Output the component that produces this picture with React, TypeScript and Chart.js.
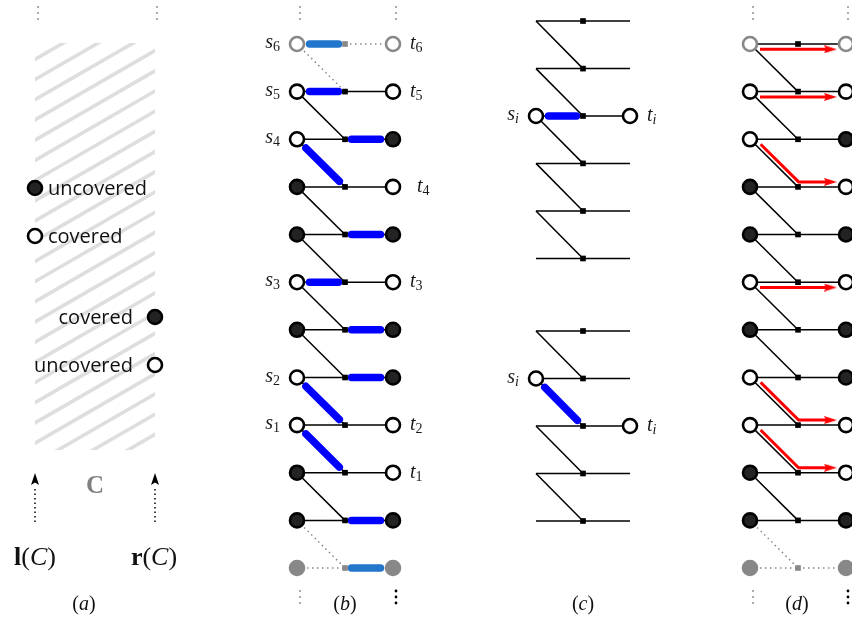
import React, { useEffect, useRef } from 'react';
import { Chart, registerables } from 'chart.js';
Chart.register(...registerables);

const W = 852;
const H = 618;

// ---- panel (b) / (d): rows of the zig-zag gadget ----
const ROWS = [44, 91.6, 139.3, 186.9, 234.5, 282.2, 329.8, 377.5, 425.1, 472.7, 520.4, 568];
const COLS_B = [297, 345, 393];
const COLS_D = [750, 798, 846];
const LEFT_STATE = ['go', 'o', 'o', 'f', 'f', 'o', 'f', 'o', 'o', 'f', 'f', 'gf'];
const RIGHT_STATE = ['go', 'o', 'f', 'o', 'f', 'o', 'f', 'f', 'o', 'o', 'f', 'gf'];
const B_BLUE_LEFT = [0, 1, 5];
const B_BLUE_RIGHT = [2, 4, 6, 7, 10, 11];
const B_BLUE_DIAG = [2, 7, 8];
const D_MATCH: [number, number][] = [[0, 0], [1, 1], [2, 3], [5, 5], [7, 8], [8, 9]];
const S_LABELS: [number, string][] = [[0, '6'], [1, '5'], [2, '4'], [5, '3'], [7, '2'], [8, '1']];
const T_LABELS: [number, string, number][] = [[0, '6', 0], [1, '5', 0], [3, '4', 7], [5, '3', 0], [8, '2', 0], [9, '1', 0]];

// ---- panel (c) ----
const COLS_C = [536, 583, 630];
const ROWS_C_TOP = [21, 68.6, 116, 163.4, 211, 258.5];
const ROWS_C_BOT = [331, 378.5, 426, 473.5, 521];
const C_TOP_ST = [2, 2];
const C_BOT_ST = [1, 2];

// ---- panel (a) ----
const A_COLS = [35, 155];
const A_RECT_Y = [43, 450];
const A_LEFT_NODES: [number, string, string][] = [[188, 'f', 'uncovered'], [236, 'o', 'covered']];
const A_RIGHT_NODES: [number, string, string][] = [[317, 'f', 'covered'], [365, 'o', 'uncovered']];
const A_ARROW_Y = [522, 486, 479];

// ---- ellipsis dots ----
const DOTS_TOP_X = [38, 157, 300, 396, 753, 848];
const DOTS_TOP_Y = [7, 13, 19];
const DOTS_BOT_GRAY_X = [300, 753];
const DOTS_BOT_BLACK_X = [396, 848];
const DOTS_BOT_Y = [591, 597, 603];

const PANEL_LABELS: [string, number][] = [['a', 84], ['b', 345], ['c', 583], ['d', 797]];

const BLUE = '#0000ff';
const LBLUE = '#2277cc';
const GRAY = '#888888';
const RED = '#ff0000';

type P = { x: number; y: number };
const pt = (x: number, y: number): P => ({ x, y });

function inset(a: P, b: P, s: number, e: number): P[] {
  const dx = b.x - a.x, dy = b.y - a.y, L = Math.hypot(dx, dy);
  const ux = dx / L, uy = dy / L;
  return [pt(a.x + ux * s, a.y + uy * s), pt(b.x - ux * e, b.y - uy * e)];
}

function line(data: P[], color: string, width: number, order: number, extra: any = {}) {
  return {
    data, showLine: true, borderColor: color, borderWidth: width, pointRadius: 0, pointHoverRadius: 0,
    order, clip: false, borderCapStyle: 'butt', borderJoinStyle: 'miter', ...extra,
  };
}
const dotted = (data: P[], color: string) => line(data, color, 1.5, 5, { borderDash: [1.5, 3.5] });
const thin = (data: P[]) => line(data, '#000', 1.5, 5);
const thick = (data: P[], color: string) => line(data, color, 7.5, 3, { borderCapStyle: 'round' });

const fillOf = (s: string) => (s === 'f' ? '#232323' : s === 'gf' ? GRAY : '#ffffff');
const strokeOf = (s: string) => (s === 'go' || s === 'gf' ? GRAY : '#000000');

function nodes(data: P[], states: string[]) {
  return {
    data, showLine: false, pointStyle: 'circle', pointRadius: 7, pointHoverRadius: 7,
    pointBorderWidth: 2.6, pointHoverBorderWidth: 2.6,
    pointBackgroundColor: states.map(fillOf), pointBorderColor: states.map(strokeOf),
    order: 0, clip: false,
  };
}
function squares(data: P[], colors: string[]) {
  return {
    data, showLine: false, pointStyle: 'rect', pointRadius: 4, pointHoverRadius: 4,
    pointBorderWidth: 0, pointBackgroundColor: colors, pointBorderColor: colors, order: 1, clip: false,
  };
}
function dots(data: P[], color: string, r: number) {
  return {
    data, showLine: false, pointStyle: 'circle', pointRadius: r, pointHoverRadius: r,
    pointBorderWidth: 0, pointBackgroundColor: color, pointBorderColor: color, order: 0, clip: false,
  };
}

function makeHead(w: number, h: number, color: string, dir: 'up' | 'right') {
  const c = document.createElement('canvas');
  c.width = w; c.height = h;
  const g = c.getContext('2d')!;
  g.fillStyle = color;
  g.beginPath();
  if (dir === 'up') {
    g.moveTo(w / 2, 0); g.lineTo(w, h); g.lineTo(w / 2, h - 2.5); g.lineTo(0, h);
  } else {
    g.moveTo(w, h / 2); g.lineTo(0, 0); g.lineTo(2, h / 2); g.lineTo(0, h);
  }
  g.closePath(); g.fill();
  return c;
}

function buildDatasets() {
  const ds: any[] = [];
  const upHead = makeHead(8, 12, '#000', 'up');
  const redHead = makeHead(13, 8, RED, 'right');

  // ----- panel (b) -----
  {
    const [L, M, R] = COLS_B;
    const n = ROWS.length;
    ROWS.forEach((y, i) => {
      const last = i === n - 1;
      if (i === 0) {
        ds.push(dotted([pt(M, y), pt(R, y)], GRAY));
      } else if (last) {
        ds.push(dotted([pt(L, y), pt(M, y)], GRAY));
      } else {
        ds.push(thin([pt(L, y), pt(M, y)]));
        ds.push(thin([pt(M, y), pt(R, y)]));
      }
      if (!last) {
        const a = pt(L, y), b = pt(M, ROWS[i + 1]);
        if (i === 0 || i === n - 2) ds.push(dotted([a, b], GRAY));
        else ds.push(thin([a, b]));
      }
    });
    B_BLUE_LEFT.forEach((i) => {
      const c = i === 0 || i === n - 1 ? LBLUE : BLUE;
      ds.push(thick(inset(pt(L, ROWS[i]), pt(M, ROWS[i]), 12.5, 6.5), c));
    });
    B_BLUE_RIGHT.forEach((i) => {
      const c = i === 0 || i === n - 1 ? LBLUE : BLUE;
      ds.push(thick(inset(pt(M, ROWS[i]), pt(R, ROWS[i]), 6.5, 12.5), c));
    });
    B_BLUE_DIAG.forEach((i) => {
      ds.push(thick(inset(pt(L, ROWS[i]), pt(M, ROWS[i + 1]), 12.5, 8), BLUE));
    });
    ds.push(squares(ROWS.map((y) => pt(M, y)), ROWS.map((_, i) => (i === 0 || i === n - 1 ? GRAY : '#000'))));
    ds.push(nodes(ROWS.map((y) => pt(L, y)), LEFT_STATE));
    ds.push(nodes(ROWS.map((y) => pt(R, y)), RIGHT_STATE));
  }

  // ----- panel (d) -----
  {
    const [L, M, R] = COLS_D;
    const n = ROWS.length;
    ROWS.forEach((y, i) => {
      const last = i === n - 1;
      if (last) {
        ds.push(dotted([pt(L, y), pt(M, y)], GRAY));
        ds.push(dotted([pt(M, y), pt(R, y)], GRAY));
      } else {
        ds.push(thin([pt(L, y), pt(M, y)]));
        ds.push(thin([pt(M, y), pt(R, y)]));
      }
      if (!last) {
        const a = pt(L, y), b = pt(M, ROWS[i + 1]);
        if (i === n - 2) ds.push(dotted([a, b], GRAY));
        else ds.push(thin([a, b]));
      }
    });
    const heads: P[] = [];
    D_MATCH.forEach(([i, j]) => {
      const y1 = ROWS[i], y2 = ROWS[j];
      if (i === j) {
        ds.push(line([pt(L + 10, y1 + 5.3), pt(R - 20, y1 + 5.3)], RED, 3, 2));
        heads.push(pt(R - 15.5, y1 + 5.3));
      } else {
        const [s] = inset(pt(L, y1), pt(M, y2), 11, 0);
        const dx = M - L, dy = y2 - y1, len = Math.hypot(dx, dy);
        const nx = dy / len, ny = -dx / len;
        const start = pt(s.x + nx * 4, s.y + ny * 4);
        const cy = y2 - 5;
        const cx = start.x + ((cy - start.y) * dx) / dy;
        ds.push(line([start, pt(cx, cy), pt(R - 20, cy)], RED, 3, 2));
        heads.push(pt(R - 15.5, cy));
      }
    });
    ds.push({
      data: heads, showLine: false, pointStyle: redHead, pointRadius: 6, pointHoverRadius: 6, order: 1, clip: false,
    });
    ds.push(squares(ROWS.map((y) => pt(M, y)), ROWS.map((_, i) => (i === n - 1 ? GRAY : '#000'))));
    ds.push(nodes(ROWS.map((y) => pt(L, y)), LEFT_STATE));
    ds.push(nodes(ROWS.map((y) => pt(R, y)), RIGHT_STATE));
  }

  // ----- panel (c) -----
  {
    const [L, M, R] = COLS_C;
    const group = (rows: number[], st: number[], diagBlue: boolean) => {
      rows.forEach((y, i) => {
        ds.push(thin([pt(L, y), pt(R, y)]));
        if (i < rows.length - 1) ds.push(thin([pt(L, y), pt(M, rows[i + 1])]));
      });
      const [si, ti] = st;
      if (diagBlue) ds.push(thick(inset(pt(L, rows[si]), pt(M, rows[si + 1]), 12.5, 8), BLUE));
      else ds.push(thick(inset(pt(L, rows[si]), pt(M, rows[si]), 12.5, 6.5), BLUE));
      ds.push(squares(rows.map((y) => pt(M, y)), rows.map(() => '#000')));
      ds.push(nodes([pt(L, rows[si]), pt(R, rows[ti])], ['o', 'o']));
    };
    group(ROWS_C_TOP, C_TOP_ST, false);
    group(ROWS_C_BOT, C_BOT_ST, true);
  }

  // ----- panel (a) -----
  {
    const [xl, xr] = A_COLS;
    ds.push(nodes(A_LEFT_NODES.map(([y]) => pt(xl, y)), A_LEFT_NODES.map(([, s]) => s)));
    ds.push(nodes(A_RIGHT_NODES.map(([y]) => pt(xr, y)), A_RIGHT_NODES.map(([, s]) => s)));
    A_COLS.forEach((x) => {
      ds.push(line([pt(x, A_ARROW_Y[0]), pt(x, A_ARROW_Y[1])], '#000', 1.5, 5, { borderDash: [1.5, 3] }));
    });
    ds.push({
      data: A_COLS.map((x) => pt(x, A_ARROW_Y[2])), showLine: false, pointStyle: upHead,
      pointRadius: 6, pointHoverRadius: 6, order: 1, clip: false,
    });
  }

  // ----- ellipsis dots -----
  const top: P[] = [];
  DOTS_TOP_X.forEach((x) => DOTS_TOP_Y.forEach((y) => top.push(pt(x, y))));
  ds.push(dots(top, '#999', 1.1));
  const bg: P[] = [];
  DOTS_BOT_GRAY_X.forEach((x) => DOTS_BOT_Y.forEach((y) => bg.push(pt(x, y))));
  ds.push(dots(bg, '#999', 1.1));
  const bb: P[] = [];
  DOTS_BOT_BLACK_X.forEach((x) => DOTS_BOT_Y.forEach((y) => bb.push(pt(x, y))));
  ds.push(dots(bb, '#000', 1.4));

  return ds;
}

const SERIF = '"Liberation Serif", "DejaVu Serif", serif';
const SANS = '"Open Sans", "Noto Sans", sans-serif';

function drawRuns(ctx: CanvasRenderingContext2D, x: number, y: number, runs: [string, string, number?][], align: 'left' | 'center' | 'right') {
  let total = 0;
  const widths = runs.map(([t, f]) => { ctx.font = f; const w = ctx.measureText(t).width; total += w; return w; });
  let cx = align === 'left' ? x : align === 'right' ? x - total : x - total / 2;
  runs.forEach(([t, f, dy], k) => {
    ctx.font = f;
    ctx.fillText(t, cx, y + (dy || 0));
    cx += widths[k];
  });
}

const hatchPlugin = {
  id: 'hatch',
  beforeDatasetsDraw(chart: any) {
    const { ctx, scales } = chart;
    const X0 = scales.x.getPixelForValue(A_COLS[0]);
    const X1 = scales.x.getPixelForValue(A_COLS[1]);
    const Y0 = scales.y.getPixelForValue(A_RECT_Y[0]);
    const Y1 = scales.y.getPixelForValue(A_RECT_Y[1]);
    ctx.save();
    ctx.beginPath();
    ctx.rect(X0, Y0, X1 - X0, Y1 - Y0);
    ctx.clip();
    ctx.strokeStyle = '#dedede';
    ctx.lineWidth = 3.6;
    const slope = Math.tan(Math.PI / 6);
    ctx.beginPath();
    for (let yy = Y0 + 16.3 - 20.2 * 2; yy < Y1 + 90; yy += 20.2) {
      ctx.moveTo(X0 - 5, yy + slope * 5);
      ctx.lineTo(X1 + 5, yy - slope * (X1 - X0 + 5));
    }
    ctx.stroke();
    ctx.restore();
  },
};

const textPlugin = {
  id: 'texts',
  afterDatasetsDraw(chart: any) {
    const { ctx, scales } = chart;
    const X = (v: number) => scales.x.getPixelForValue(v);
    const Y = (v: number) => scales.y.getPixelForValue(v);
    ctx.save();
    ctx.textBaseline = 'alphabetic';
    ctx.fillStyle = '#1a1a1a';
    const it = `italic 20px ${SERIF}`;
    const sub = `14px ${SERIF}`;
    const subIt = `italic 14px ${SERIF}`;
    S_LABELS.forEach(([i, k]) => drawRuns(ctx, X(COLS_B[0] - 17), Y(ROWS[i]) + 4, [['s', it], [k, sub, 3]], 'right'));
    T_LABELS.forEach(([i, k, off]) => drawRuns(ctx, X(COLS_B[2] + 17 + off), Y(ROWS[i]) + 5, [['t', it], [k, sub, 3]], 'left'));
    [[ROWS_C_TOP, C_TOP_ST], [ROWS_C_BOT, C_BOT_ST]].forEach(([rows, st]: any) => {
      drawRuns(ctx, X(COLS_C[0] - 17), Y(rows[st[0]]) + 4, [['s', it], ['i', subIt, 3]], 'right');
      drawRuns(ctx, X(COLS_C[2] + 17), Y(rows[st[1]]) + 5, [['t', it], ['i', subIt, 3]], 'left');
    });
    ctx.fillStyle = '#111';
    const sans = `20px ${SANS}`;
    A_LEFT_NODES.forEach(([y, , t]) => drawRuns(ctx, X(A_COLS[0] + 13), Y(y) + 7, [[t, sans]], 'left'));
    A_RIGHT_NODES.forEach(([y, , t]) => drawRuns(ctx, X(A_COLS[1] - 22), Y(y) + 7, [[t, sans]], 'right'));
    ctx.fillStyle = '#808080';
    drawRuns(ctx, X((A_COLS[0] + A_COLS[1]) / 2), Y(493), [['C', `bold 25px ${SERIF}`]], 'center');
    ctx.fillStyle = '#111';
    const big = `26px ${SERIF}`;
    drawRuns(ctx, X(A_COLS[0]), Y(565), [['l', `bold 26px ${SERIF}`], ['(', big], ['C', `italic 26px ${SERIF}`], [')', big]], 'center');
    drawRuns(ctx, X(A_COLS[1] - 1), Y(565), [['r', `bold 26px ${SERIF}`], ['(', big], ['C', `italic 26px ${SERIF}`], [')', big]], 'center');
    PANEL_LABELS.forEach(([k, x]) => drawRuns(ctx, X(x), Y(610), [['(', `20px ${SERIF}`], [k, `italic 20px ${SERIF}`], [')', `20px ${SERIF}`]], 'center'));
    ctx.restore();
  },
};

export default function App() {
  const ref = useRef<HTMLCanvasElement | null>(null);
  useEffect(() => {
    if (!ref.current) return;
    const chart = new Chart(ref.current, {
      type: 'scatter',
      data: { datasets: buildDatasets() },
      options: {
        animation: false,
        responsive: false,
        maintainAspectRatio: false,
        devicePixelRatio: 1,
        events: [],
        layout: { padding: 0, autoPadding: false },
        plugins: { legend: { display: false }, tooltip: { enabled: false } },
        scales: {
          x: { type: 'linear', min: 0, max: W, display: false },
          y: { type: 'linear', min: 0, max: H, reverse: true, display: false },
        },
      } as any,
      plugins: [hatchPlugin, textPlugin],
    });
    return () => chart.destroy();
  }, []);
  return (
    <div style={{ position: 'absolute', left: 0, top: 0, width: W, height: H, background: '#fff' }}>
      <canvas ref={ref} width={W} height={H} style={{ width: W, height: H, display: 'block' }} />
    </div>
  );
}
